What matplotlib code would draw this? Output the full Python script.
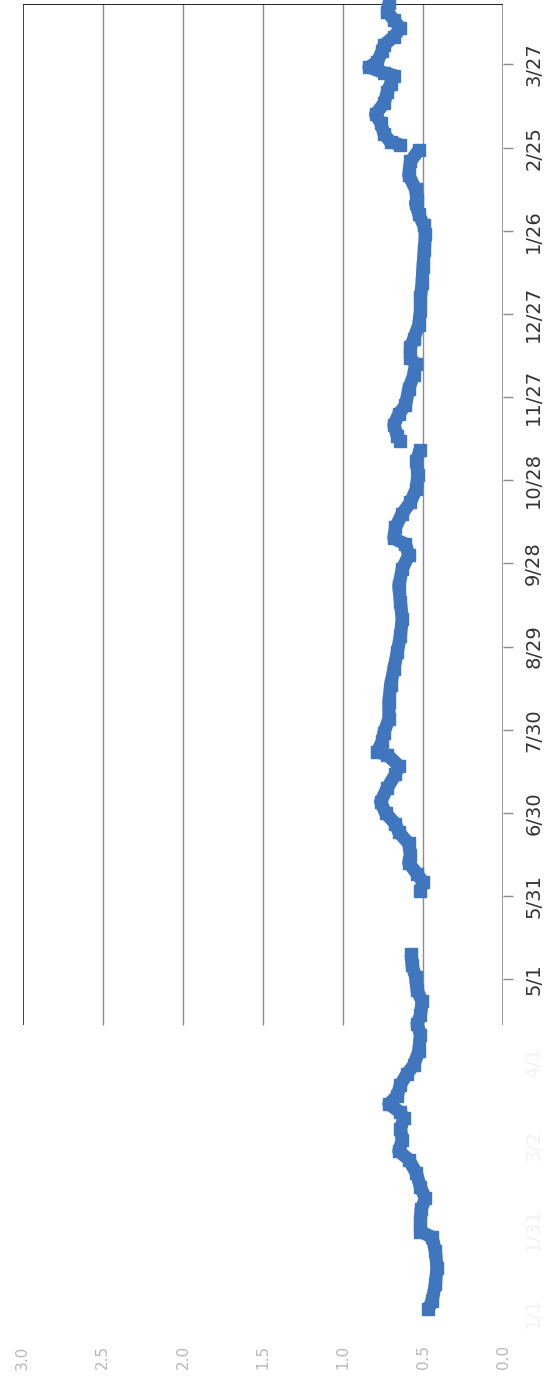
import numpy as np
import pandas as pd
import matplotlib
matplotlib.use("Agg")
import matplotlib.pyplot as plt
import matplotlib.dates as mdates

# ---- data ----
dates = [
    "2014-01-02", "2014-01-05", "2014-01-11", "2014-01-17", "2014-01-23", "2014-01-28",
    "2014-01-30", "2014-02-03", "2014-02-07", "2014-02-11", "2014-02-15", "2014-02-20",
    "2014-02-25", "2014-02-28", "2014-03-04", "2014-03-08", "2014-03-12", "2014-03-14",
    "2014-03-17", "2014-03-20", "2014-03-24", "2014-03-28", "2014-03-31", "2014-04-05",
    "2014-04-11", "2014-04-15", "2014-04-18", "2014-04-23", "2014-04-27", "2014-05-02",
    "2014-05-06", "2014-05-10",
    "2014-05-20",
    "2014-06-02", "2014-06-05", "2014-06-08", "2014-06-12", "2014-06-15", "2014-06-19",
    "2014-06-23", "2014-06-26", "2014-06-30", "2014-07-04", "2014-07-09", "2014-07-14",
    "2014-07-17", "2014-07-21", "2014-07-22", "2014-07-26", "2014-07-29", "2014-08-03",
    "2014-08-09", "2014-08-15", "2014-08-21", "2014-08-27", "2014-09-02", "2014-09-08",
    "2014-09-14", "2014-09-20", "2014-09-26", "2014-10-01", "2014-10-05", "2014-10-07",
    "2014-10-11", "2014-10-16", "2014-10-20", "2014-10-25", "2014-10-30", "2014-11-04",
    "2014-11-08",
    "2014-11-10",
    "2014-11-11", "2014-11-13", "2014-11-17", "2014-11-21", "2014-11-24", "2014-11-30",
    "2014-12-05", "2014-12-09", "2014-12-11", "2014-12-15", "2014-12-18", "2014-12-23",
    "2014-12-28", "2015-01-02", "2015-01-07", "2015-01-13", "2015-01-19", "2015-01-25",
    "2015-01-28", "2015-02-01", "2015-02-05", "2015-02-06", "2015-02-10", "2015-02-15",
    "2015-02-20", "2015-02-24",
    "2015-02-25",
    "2015-02-26", "2015-02-27", "2015-03-02", "2015-03-06", "2015-03-09", "2015-03-13",
    "2015-03-17", "2015-03-20", "2015-03-23", "2015-03-24", "2015-03-26", "2015-03-28",
    "2015-04-01", "2015-04-03", "2015-04-06", "2015-04-09", "2015-04-12", "2015-04-15",
    "2015-04-18",
]
values = [
    0.468, 0.445, 0.424, 0.414, 0.424, 0.445,
    0.517, 0.517, 0.513, 0.486, 0.517, 0.542,
    0.590, 0.652, 0.631, 0.642, 0.621, 0.642,
    0.714, 0.662, 0.642, 0.600, 0.559, 0.528,
    0.517, 0.538, 0.517, 0.507, 0.538, 0.548,
    0.569, 0.575,
    None,
    0.520, 0.500, 0.538, 0.590, 0.580, 0.590,
    0.652, 0.673, 0.735, 0.766, 0.724, 0.673,
    0.652, 0.724, 0.786, 0.755, 0.745, 0.714,
    0.714, 0.704, 0.683, 0.662, 0.642, 0.631,
    0.642, 0.652, 0.631, 0.590, 0.611, 0.683,
    0.673, 0.631, 0.580, 0.542, 0.534, 0.542,
    0.520,
    None,
    0.642, 0.662, 0.683, 0.652, 0.611, 0.590,
    0.559, 0.548, 0.580, 0.580, 0.559, 0.528,
    0.517, 0.517, 0.507, 0.501, 0.493, 0.486,
    0.497, 0.528, 0.548, 0.538, 0.548, 0.590,
    0.580, 0.528,
    None,
    0.642, 0.704, 0.745, 0.766, 0.797, 0.745,
    0.724, 0.704, 0.683, 0.745, 0.839, 0.786,
    0.755, 0.745, 0.683, 0.642, 0.683, 0.724,
    0.714,
]

value_ticks = [0.0, 0.5, 1.0, 1.5, 2.0, 2.5, 3.0]
value_labels = ["0.0", "0.5", "1.0", "1.5", "2.0", "2.5", "3.0"]
date_tick_labels = ["1/1", "1/31", "3/2", "4/1", "5/1", "5/31", "6/30", "7/30",
                    "8/29", "9/28", "10/28", "11/27", "12/27", "1/26", "2/25", "3/27"]
date_ticks = ["2014-01-01", "2014-01-31", "2014-03-02", "2014-04-01", "2014-05-01",
              "2014-05-31", "2014-06-30", "2014-07-30", "2014-08-29", "2014-09-28",
              "2014-10-28", "2014-11-27", "2014-12-27", "2015-01-26", "2015-02-25",
              "2015-03-27"]
axis_start = "2014-01-01"
axis_end = "2015-04-17 19:00"
visible_from = "2014-04-14 12:00"   # lower part of the scan is faded

# ---- figure ----
fig = plt.figure(figsize=(5.46, 13.83), dpi=100)
ax = fig.add_axes([22.7 / 546, 1 - 1312 / 1383, (503.3 - 22.7) / 546, (1312 - 4) / 1383])

d = mdates.date2num(pd.to_datetime(dates))
v = np.array([np.nan if x is None else x for x in values], dtype=float)

y0 = mdates.date2num(pd.Timestamp(axis_start))
y1 = mdates.date2num(pd.Timestamp(axis_end))
yf = mdates.date2num(pd.Timestamp(visible_from))

ax.set_xlim(3.0, 0.0)
ax.set_ylim(y0, y1)
for s in ax.spines.values():
    s.set_visible(False)

# gridlines and frame (only in the non-faded part)
ax.vlines(value_ticks[1:-1], yf, y1, colors="#8c8c8c", lw=1.0, zorder=1)
ax.vlines([3.0], yf, y1, colors="#222222", lw=1.2, zorder=1)
ax.vlines([0.0], yf, y1, colors="#8c8c8c", lw=1.2, zorder=1)
ax.hlines([y1], 0.0, 3.0, colors="#222222", lw=1.4, zorder=1)

# value on horizontal axis, date on vertical axis
ax.plot(v, d, color="#3F76BD", lw=9.5, marker="s", markersize=9,
        solid_joinstyle="round", solid_capstyle="butt", clip_on=False, zorder=3)

# date axis on the right
ax.yaxis.tick_right()
tk = mdates.date2num(pd.to_datetime(date_ticks))
ax.set_yticks(tk)
ax.set_yticklabels(date_tick_labels, rotation=90, va="center", ha="left",
                   fontsize=14, family=["Liberation Sans Narrow", "DejaVu Sans"])
ax.tick_params(axis="y", which="major", length=7, width=1, color="#8c8c8c", pad=8,
               right=True, left=False)
for t, lab, pos in zip(ax.yaxis.get_major_ticks(), ax.get_yticklabels(), tk):
    if pos < yf:
        lab.set_color("#f2f2f2")
        t.tick2line.set_visible(False)
    else:
        lab.set_color("#333333")

# value axis at the bottom (faded)
ax.set_xticks(value_ticks)
ax.set_xticklabels(value_labels, rotation=90, fontsize=11, color="#b8b8b8",
                   family=["Liberation Sans Narrow", "DejaVu Sans"])
ax.tick_params(axis="x", length=0, pad=24)

fig.savefig("out.png", dpi=100)
